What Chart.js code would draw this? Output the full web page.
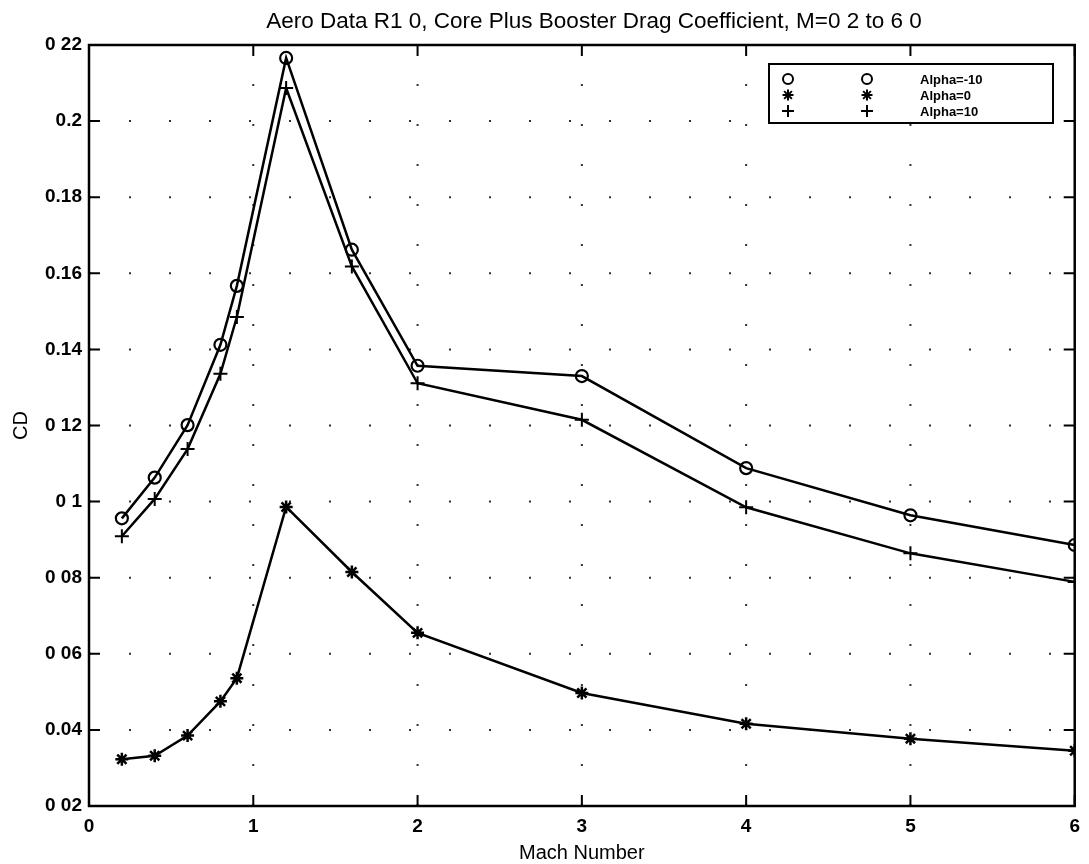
<!DOCTYPE html>
<html>
<head>
<meta charset="utf-8">
<title>Core Plus Booster Drag Coefficient</title>
<script src="https://cdn.jsdelivr.net/npm/chart.js@4.4.1/dist/chart.umd.min.js"></script>
<style>
  html, body { margin: 0; padding: 0; background: #fff; }
  #wrap { width: 1089px; height: 864px; }
</style>
</head>
<body>
<div id="wrap"><canvas id="cdChart" width="1089" height="864"></canvas></div>
<script>
// Mach numbers of the table
const mach = [0.2, 0.4, 0.6, 0.8, 0.9, 1.2, 1.6, 2, 3, 4, 5, 6];

// CD, one list per angle of attack
const cdAlphaM10 = [0.0956, 0.1063, 0.1201, 0.1412, 0.1567, 0.2166, 0.1662, 0.1357, 0.1330, 0.1088, 0.0964, 0.0886];
const cdAlpha0   = [0.0323, 0.0332, 0.0385, 0.0475, 0.0536, 0.0986, 0.0815, 0.0655, 0.0497, 0.0416, 0.0377, 0.0345];
const cdAlpha10  = [0.0909, 0.1007, 0.1138, 0.1336, 0.1485, 0.2087, 0.1618, 0.1311, 0.1215, 0.0985, 0.0864, 0.0789];

const seriesNames = ['Alpha=-10', 'Alpha=0', 'Alpha=10'];

// axis ticks (labels as printed on the scan)
const xTicks = [0, 1, 2, 3, 4, 5, 6];
const yTicks = [0.02, 0.04, 0.06, 0.08, 0.10, 0.12, 0.14, 0.16, 0.18, 0.20, 0.22];
const yTickLabels = ['0 02', '0.04', '0 06', '0 08', '0 1', '0 12', '0.14', '0.16', '0.18', '0.2', '0 22'];

const chartTitle = 'Aero Data R1 0, Core Plus Booster Drag Coefficient, M=0 2 to 6 0';
const xTitle = 'Mach Number';
const yTitle = 'CD';

const FONT = '"Liberation Sans", Arial, Helvetica, sans-serif';

function toPoints(ys) {
  return mach.map((m, i) => ({ x: m, y: ys[i] }));
}

// dotted grid + box + inward ticks, matlab style
const frame = {
  id: 'frame',
  beforeDatasetsDraw(chart) {
    const { ctx, chartArea: a, scales: { x, y } } = chart;
    ctx.save();
    ctx.strokeStyle = '#333';
    ctx.lineWidth = 2;
    ctx.setLineDash([2, 38]);
    xTicks.slice(1, -1).forEach(v => {
      const px = x.getPixelForValue(v);
      ctx.beginPath();
      ctx.moveTo(px, a.bottom);
      ctx.lineTo(px, a.top);
      ctx.stroke();
    });
    yTicks.slice(1, -1).forEach(v => {
      const py = y.getPixelForValue(v);
      ctx.beginPath();
      ctx.moveTo(a.left, py);
      ctx.lineTo(a.right, py);
      ctx.stroke();
    });
    ctx.restore();
  },
  afterDraw(chart) {
    const { ctx, chartArea: a, scales: { x, y } } = chart;
    const len = 11;
    ctx.save();
    ctx.strokeStyle = '#000';
    ctx.lineWidth = 2.5;
    ctx.strokeRect(a.left, a.top, a.right - a.left, a.bottom - a.top);
    ctx.lineWidth = 2;
    ctx.beginPath();
    xTicks.forEach(v => {
      const px = x.getPixelForValue(v);
      ctx.moveTo(px, a.bottom); ctx.lineTo(px, a.bottom - len);
      ctx.moveTo(px, a.top); ctx.lineTo(px, a.top + len);
    });
    yTicks.forEach(v => {
      const py = y.getPixelForValue(v);
      ctx.moveTo(a.left, py); ctx.lineTo(a.left + len, py);
      ctx.moveTo(a.right, py); ctx.lineTo(a.right - len, py);
    });
    ctx.stroke();

    // titles
    ctx.fillStyle = '#000';
    ctx.textAlign = 'center';
    ctx.textBaseline = 'middle';
    ctx.font = '22.5px ' + FONT;
    ctx.fillText(chartTitle, 594, 22);
    ctx.font = '20px ' + FONT;
    ctx.fillText(xTitle, (a.left + a.right) / 2, 853);
    ctx.translate(21, (a.top + a.bottom) / 2);
    ctx.rotate(-Math.PI / 2);
    ctx.fillText(yTitle, 0, 0);
    ctx.restore();

    // legend box
    const box = { left: 769, top: 64, right: 1053, bottom: 123 };
    ctx.save();
    ctx.fillStyle = '#fff';
    ctx.fillRect(box.left, box.top, box.right - box.left, box.bottom - box.top);
    ctx.strokeStyle = '#000';
    ctx.lineWidth = 2;
    ctx.strokeRect(box.left, box.top, box.right - box.left, box.bottom - box.top);
    ctx.fillStyle = '#000';
    ctx.font = 'bold 13px ' + FONT;
    ctx.textAlign = 'left';
    ctx.textBaseline = 'middle';
    chart.data.datasets.forEach((ds, i) => {
      const rowY = 79 + i * 16;
      const opts = { pointStyle: ds.pointStyle, radius: ds.pointRadius - 1, borderWidth: ds.pointBorderWidth };
      ctx.strokeStyle = '#000';
      ctx.fillStyle = 'rgba(0,0,0,0)';
      Chart.helpers.drawPoint(ctx, opts, 788, rowY);
      Chart.helpers.drawPoint(ctx, opts, 867, rowY);
      ctx.fillStyle = '#000';
      ctx.fillText(ds.label, 920, rowY + 1);
    });
    ctx.restore();
  }
};

const ctx = document.getElementById('cdChart').getContext('2d');

new Chart(ctx, {
  type: 'line',
  data: {
    datasets: [
      {
        label: seriesNames[0],
        data: toPoints(cdAlphaM10),
        borderColor: '#000',
        borderWidth: 2.5,
        pointStyle: 'circle',
        pointRadius: 6,
        pointBorderWidth: 2.2,
        pointBorderColor: '#000',
        pointBackgroundColor: 'rgba(0,0,0,0)'
      },
      {
        label: seriesNames[1],
        data: toPoints(cdAlpha0),
        borderColor: '#000',
        borderWidth: 2.5,
        pointStyle: 'star',
        pointRadius: 6.5,
        pointBorderWidth: 2.5,
        pointBorderColor: '#000',
        pointBackgroundColor: 'rgba(0,0,0,0)'
      },
      {
        label: seriesNames[2],
        data: toPoints(cdAlpha10),
        borderColor: '#000',
        borderWidth: 2.5,
        pointStyle: 'cross',
        pointRadius: 7,
        pointBorderWidth: 2,
        pointBorderColor: '#000',
        pointBackgroundColor: 'rgba(0,0,0,0)'
      }
    ]
  },
  options: {
    responsive: false,
    animation: false,
    layout: { padding: { top: 45, right: 9, left: 0, bottom: 0 } },
    elements: { line: { tension: 0 } },
    plugins: {
      legend: { display: false },
      title: { display: false },
      tooltip: { enabled: false }
    },
    scales: {
      x: {
        type: 'linear',
        min: 0,
        max: 6,
        afterBuildTicks: s => { s.ticks = xTicks.map(v => ({ value: v })); },
        afterFit: s => { s.height = 58; },
        grid: { display: false, drawTicks: false },
        border: { display: false },
        ticks: {
          color: '#000',
          padding: 9,
          maxRotation: 0,
          font: { family: FONT, size: 19, weight: 'bold' },
          callback: v => String(v)
        }
      },
      y: {
        type: 'linear',
        min: 0.02,
        max: 0.22,
        afterBuildTicks: s => { s.ticks = yTicks.map(v => ({ value: v })); },
        afterFit: s => { s.width = 89; },
        grid: { display: false, drawTicks: false },
        border: { display: false },
        ticks: {
          color: '#000',
          padding: 7,
          font: { family: FONT, size: 19, weight: 'bold' },
          callback: (v, i) => yTickLabels[i]
        }
      }
    }
  },
  plugins: [frame]
});
</script>
</body>
</html>
